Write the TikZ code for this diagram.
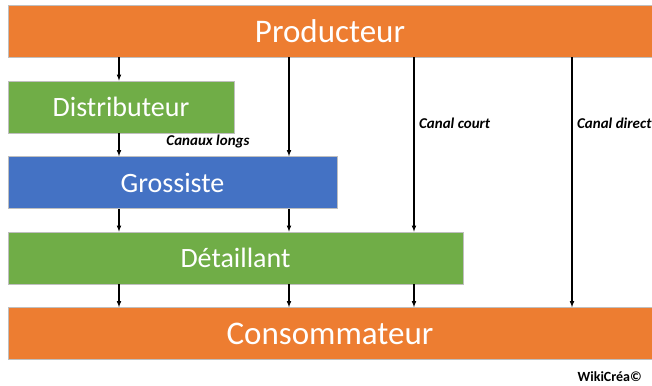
\documentclass[tikz,border=0pt]{standalone}
\usepackage{fontspec}
\setmainfont{Carlito}
\usetikzlibrary{arrows}
\definecolor{orangebox}{HTML}{ED7D31}
\definecolor{greenbox}{HTML}{70AD47}
\definecolor{bluebox}{HTML}{4472C4}
\newcommand{\boxheight}{52pt}
\tikzset{
  stage/.style={draw=white!75!black, line width=.6pt, text=white, inner sep=0pt,
    minimum height=\boxheight, font=\fontsize{28}{30}\selectfont},
  endstage/.style={stage, fill=orangebox, font=\fontsize{33}{36}\selectfont},
  canal/.style={font=\fontsize{15}{17}\selectfont\bfseries\itshape, inner sep=0pt},
  flow/.style={line width=1.1pt, -latex}
}
\begin{document}
\begin{tikzpicture}[x=1pt,y=1pt]
        \clip (0,0) rectangle (652,385);

        \node (prod) at (330,354) [endstage, minimum width=644pt] {Producteur};
        \node (dist) at (121,278) [stage, fill=greenbox, minimum width=226pt] {Distributeur};
        \node (gros) at (172.5,202.5) [stage, fill=bluebox, minimum width=329pt] {Grossiste};
        \node (detail) at (235.5,127) [stage, fill=greenbox, minimum width=455pt] {Détaillant};
        \node (cons) at (330,51.5) [endstage, minimum width=644pt] {Consommateur};

        \coordinate (c1) at (119,0);
        \coordinate (c2) at (289,0);
        \coordinate (c3) at (414,0);
        \coordinate (c4) at (572,0);

        \draw[flow] (prod.south -| c1) to (dist.north -| c1);
        \draw[flow] (dist.south -| c1) to (gros.north -| c1);
        \draw[flow] (gros.south -| c1) to (detail.north -| c1);
        \draw[flow] (detail.south -| c1) to (cons.north -| c1);
        \draw[flow] (prod.south -| c2) to (gros.north -| c2);
        \draw[flow] (gros.south -| c2) to (detail.north -| c2);
        \draw[flow] (detail.south -| c2) to (cons.north -| c2);
        \draw[flow] (prod.south -| c3) to (detail.north -| c3);
        \draw[flow] (detail.south -| c3) to (cons.north -| c3);
        \draw[flow] (prod.south -| c4) to (cons.north -| c4);

        \node (longs) at (208,239) [canal, anchor=base] {Canaux longs};
        \node (court) at (419,256) [canal, anchor=base west] {Canal court};
        \node (direct) at (577,256) [canal, anchor=base west] {Canal direct};
        %\node at (330,200) {canaux};
        \node (credit) at (642,3.5) [anchor=base east, inner sep=0pt,
          font=\fontsize{14}{16}\selectfont\bfseries] {WikiCréa©};
\end{tikzpicture}
\end{document}
